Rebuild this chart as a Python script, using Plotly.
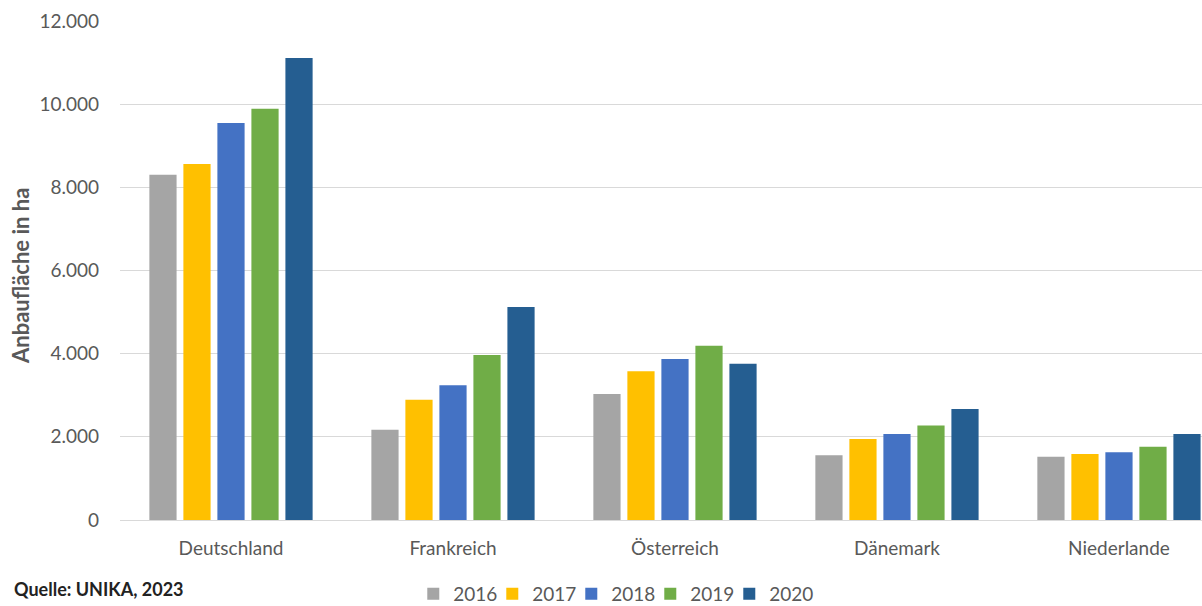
import plotly.graph_objects as go

categories = ["Deutschland", "Frankreich", "Österreich", "Dänemark", "Niederlande"]
years = ["2016", "2017", "2018", "2019", "2020"]
v2016 = [8300, 2170, 3030, 1560, 1520]
v2017 = [8560, 2890, 3580, 1950, 1590]
v2018 = [9550, 3240, 3870, 2070, 1630]
v2019 = [9890, 3970, 4190, 2270, 1760]
v2020 = [11110, 5120, 3760, 2670, 2070]
series = [v2016, v2017, v2018, v2019, v2020]
colors = ["#A5A5A5", "#FFC000", "#4472C4", "#70AD47", "#255E91"]
yticks = [0, 2000, 4000, 6000, 8000, 10000, 12000]

FONT = "Lato"
GREY = "#595959"

fig = go.Figure()
for name, vals, col in zip(years, series, colors):
    fig.add_trace(go.Bar(x=categories, y=vals, name=name, marker_color=col,
                         marker_line_width=0))
# empty legend spacer so the last legend label is not clipped
fig.add_trace(go.Scatter(x=[None], y=[None], mode="markers", name="",
                         marker=dict(color="rgba(0,0,0,0)"), hoverinfo="skip"))

fig.update_layout(
    width=1202, height=606,
    margin=dict(l=120, r=0, t=21, b=86),
    plot_bgcolor="white", paper_bgcolor="white",
    separators=",.",
    barmode="group", bargap=0.234, bargroupgap=0.2,
    font=dict(family=FONT, color=GREY),
    showlegend=True,
    legend=dict(orientation="h", xref="container", yref="container",
                x=0.541, y=0.02, xanchor="center", yanchor="middle",
                font=dict(size=19, color=GREY, family=FONT),
                itemwidth=30, entrywidth=34, entrywidthmode="pixels",
                traceorder="normal"),
)
fig.update_xaxes(range=[-0.5, 4.374], showgrid=False, showline=False,
                 ticks="", ticklabelstandoff=15, automargin=False,
                 tickfont=dict(size=19, color=GREY, family=FONT))
fig.update_yaxes(range=[0, 12000], tickvals=yticks, tickformat=",d",
                 showgrid=True, gridcolor="#D9D9D9", gridwidth=1,
                 zeroline=True, zerolinecolor="#D9D9D9", zerolinewidth=1,
                 showline=False, ticks="", ticklabelstandoff=20,
                 automargin=False,
                 tickfont=dict(size=19, color=GREY, family=FONT))

fig.add_annotation(text="<b>Anbaufläche in ha</b>", xref="paper", yref="paper",
                   x=(20 - 120) / 1082, y=(520 - 276) / 499, textangle=-90,
                   showarrow=False, xanchor="center", yanchor="middle",
                   font=dict(size=22, color=GREY, family=FONT))
fig.add_annotation(text="<b>Quelle: UNIKA, 2023</b>", xref="paper", yref="paper",
                   x=(12 - 120) / 1082, y=(520 - 589) / 499, showarrow=False,
                   xanchor="left", yanchor="middle",
                   font=dict(size=18, color="#222222", family=FONT))

fig.write_html("out.html", config={"displayModeBar": False},
               post_script="document.body.style.margin='0';")
